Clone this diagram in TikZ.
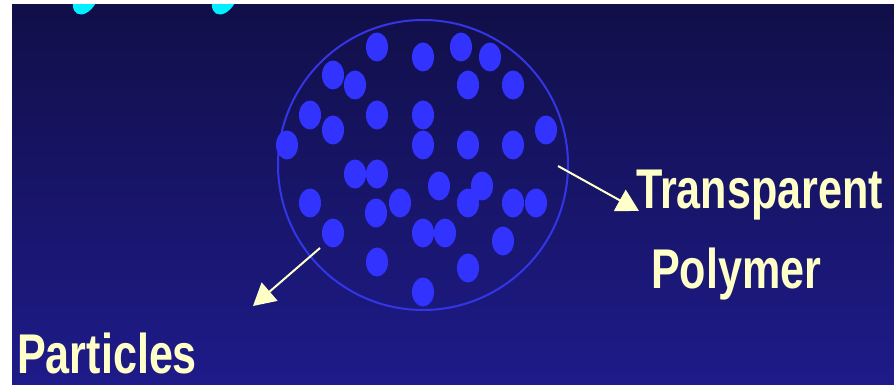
\documentclass[tikz,border=0pt]{standalone}
\usepackage{fontspec}
\newfontfamily\lblfont[FakeStretch=0.77]{Liberation Sans}
\usetikzlibrary{arrows.meta,shapes.geometric}
\definecolor{bgtop}{RGB}{17,15,72}
\definecolor{bgbot}{RGB}{30,27,138}
\definecolor{dotblue}{RGB}{51,51,255}
\definecolor{ringblue}{RGB}{53,53,232}
\definecolor{cream}{RGB}{255,255,200}
\definecolor{blobcyan}{RGB}{0,240,255}

\begin{document}
\begin{tikzpicture}[x=1pt,y=-1pt,
  dot/.style={ellipse,fill=dotblue,minimum width=22pt,minimum height=29pt,inner sep=0pt},
  lbl/.style={text=cream,font=\lblfont\bfseries\fontsize{56}{60}\selectfont,inner sep=0pt,anchor=base west},
  pointer/.style={draw=cream,line width=2pt,-{Triangle[length=22pt,width=24pt]}}]
\fill[white] (0,0) rectangle (894,385);
\useasboundingbox (0,0) rectangle (894,385);
\shade[top color=bgtop,bottom color=bgbot] (12,5) rectangle (894,385);

% cyan blobs cut by the top edge
\begin{scope}
\clip (12,5) rectangle (894,385);
\fill[blobcyan,rotate around={-30:(86,-2)}] (86,-2) ellipse [x radius=11, y radius=18];
\fill[blobcyan,rotate around={-30:(225,-2)}] (225,-2) ellipse [x radius=11, y radius=18];
\end{scope}

% polymer with particles
\node[draw=ringblue,line width=2pt,circle,minimum size=290pt,inner sep=0pt] (polymer) at (423,165) {};
\foreach \x/\y [count=\i] in {377/47,423/57,461/47,490/57,333/75,355/85,468/85,513/85,
    310/115,377/115,423/115,333/130,546/130,287/145,423/145,468/145,513/145,
    355/174,377/174,439/186,482/186,310/203,400/203,468/203,513/203,536/203,
    376/213,333/233,423/233,445/233,503/241,377/262,468/268,423/292}
  \node[dot] (p\i) at (\x,\y) {};

% labels
\node[lbl] (trans) at (636,208) {Transparent};
\node[lbl] (poly) at (651,288) {Polymer};
\node[lbl] (parts) at (17,373) {Particles};

% pointers
\coordinate (tr-from) at (558,166);
\coordinate (tr-to) at (639,211);
\draw[pointer] (tr-from) -- (tr-to);
\coordinate (pa-from) at (320,248);
\coordinate (pa-to) at (253,306);
\draw[pointer] (pa-from) -- (pa-to);
\end{tikzpicture}
\end{document}
